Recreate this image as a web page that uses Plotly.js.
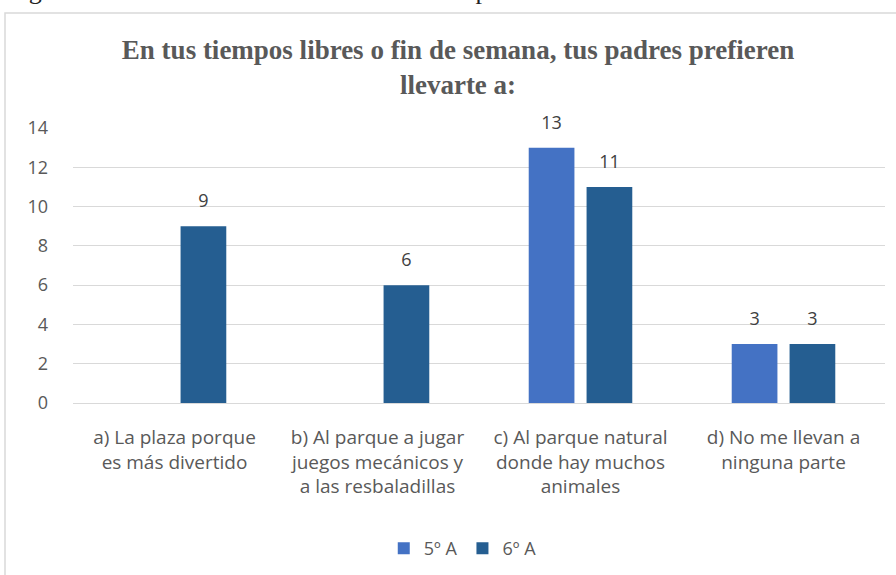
<!DOCTYPE html>
<html>
<head>
<meta charset="utf-8">
<script src="https://cdn.plot.ly/plotly-3.0.1.min.js"></script>
<style>
  html, body { margin: 0; padding: 0; background: #fff; }
  #chart { width: 896px; height: 575px; }
</style>
</head>
<body>
<div id="chart"></div>
<script>
// categories (answers) and the two groups
const categories = [
  'a) La plaza porque<br>es más divertido',
  'b) Al parque a jugar<br>juegos mecánicos y<br>a las resbaladillas',
  'c) Al parque natural<br>donde hay muchos<br>animales',
  'd) No me llevan a<br>ninguna parte'
];
const quinto = [0, 0, 13, 3];
const sexto = [9, 6, 11, 3];
const yTicks = [0, 2, 4, 6, 8, 10, 12, 14];

// label drawn big inside a small-font text, plus a blank line: lifts it above the bar like Excel
const labelOf = v => v > 0 ? '<span style="font-size:18px">' + v + '</span><br> ' : '';

const gray = '#595959';
const sans = 'Open Sans, Liberation Sans, sans-serif';
const labelFont = { family: sans, size: 10, color: '#404040' };

const traces = [
  {
    x: categories, y: quinto, type: 'bar', name: '5º A',
    marker: { color: '#4472C4' },
    text: quinto.map(labelOf), textposition: 'outside', cliponaxis: false,
    textfont: labelFont
  },
  {
    x: categories, y: sexto, type: 'bar', name: '6º A',
    marker: { color: '#255E91' },
    text: sexto.map(labelOf), textposition: 'outside', cliponaxis: false,
    textfont: labelFont
  }
];

const layout = {
  width: 896, height: 575,
  margin: { l: 73, r: 11, t: 128, b: 172, autoexpand: false },
  paper_bgcolor: '#fff', plot_bgcolor: '#fff',
  barmode: 'group', bargap: 0.43, bargroupgap: 0.21,
  showlegend: true,
  font: { family: sans, size: 18, color: gray },
  title: {
    text: '<b>En tus tiempos libres o fin de semana, tus padres prefieren<br>llevarte a:</b>',
    font: { family: 'Liberation Serif, serif', size: 27, color: gray },
    x: 458 / 896, xanchor: 'center', xref: 'container',
    y: 0.897, yanchor: 'top'
  },
  xaxis: {
    type: 'category', showgrid: false, zeroline: false, showline: false,
    ticks: '', tickfont: { size: 19, color: gray }, ticklabelstandoff: 21
  },
  yaxis: {
    range: [0, 14], tickvals: yTicks, showgrid: true, gridcolor: '#d9d9d9', gridwidth: 1,
    zeroline: true, zerolinecolor: '#d9d9d9', showline: false, ticks: '',
    tickfont: { size: 18, color: gray }, ticklabelstandoff: 24
  },
  legend: {
    orientation: 'h', x: 0.48, xanchor: 'center', y: (403 - 530) / 275, yanchor: 'top',
    font: { size: 18, color: gray }, itemwidth: 30, traceorder: 'normal'
  },
  shapes: [{
    type: 'rect', xref: 'paper', yref: 'paper',
    x0: (5 - 73) / 812, x1: (905 - 73) / 812,
    y0: (403 - 590) / 275, y1: (403 - 13) / 275,
    line: { color: '#d9d9d9', width: 1.5 }, fillcolor: 'rgba(0,0,0,0)', layer: 'below'
  }],
  annotations: [{
    text: 'Figura 5. Resultado de la información de los padres hacia el cuidado de la naturaleza',
    xref: 'paper', yref: 'paper', x: (448 - 73) / 812, y: (403 - 7) / 275,
    xanchor: 'center', yanchor: 'bottom', showarrow: false,
    font: { family: 'Liberation Serif, serif', size: 26, color: '#222' }
  }]
};

Plotly.newPlot('chart', traces, layout, { displayModeBar: false, staticPlot: true });
</script>
</body>
</html>
